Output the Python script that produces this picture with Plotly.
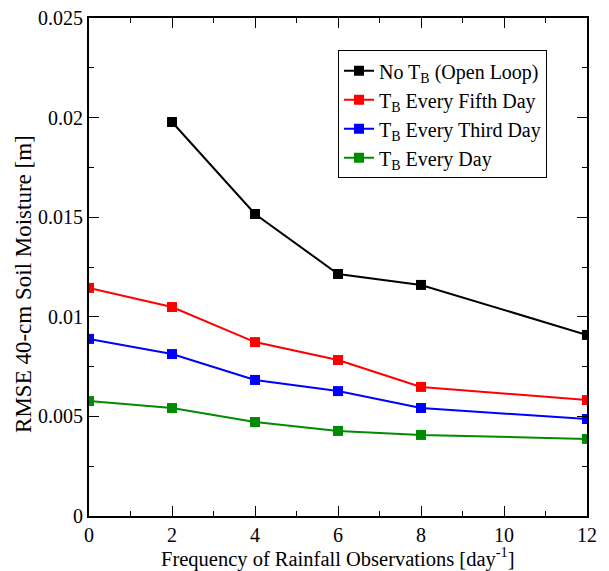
import plotly.graph_objects as go

freq = [0, 2, 4, 6, 8, 12]
open_loop_x = [2, 4, 6, 8, 12]
open_loop = [0.01978, 0.01516, 0.01215, 0.0116, 0.00909]
every_fifth = [0.01145, 0.01049, 0.00873, 0.00783, 0.00648, 0.00582]
every_third = [0.00889, 0.00813, 0.00683, 0.00627, 0.00542, 0.00487]
every_day = [0.00577, 0.00542, 0.00472, 0.00427, 0.00407, 0.00387]

names = ["No T<sub>B</sub> (Open Loop)", "T<sub>B</sub> Every Fifth Day",
         "T<sub>B</sub> Every Third Day", "T<sub>B</sub> Every Day"]
colors = ["#000000", "#ff0000", "#0000ff", "#008b00"]
xs = [open_loop_x, freq, freq, freq]
ys = [open_loop, every_fifth, every_third, every_day]
y_title = "RMSE 40-cm Soil Moisture [m]"
x_title = "Frequency of Rainfall Observations [day<sup>-1</sup>]"

fig = go.Figure()
for n, c, x, y in zip(names, colors, xs, ys):
    fig.add_trace(go.Scatter(x=x, y=y, name=n, mode="lines+markers",
                             line=dict(color=c, width=2),
                             marker=dict(symbol="square", size=10, color=c)))

fam = "Liberation Serif"
tickfont = dict(family=fam, size=20, color="black")
fig.update_layout(
    width=609, height=571,
    margin=dict(l=89, r=22, t=18, b=55),
    plot_bgcolor="white", paper_bgcolor="white",
    font=dict(family=fam, size=20, color="black"),
    showlegend=True,
    legend=dict(x=0.5, y=0.935, xanchor="left", yanchor="top",
                bordercolor="black", borderwidth=1, bgcolor="white",
                font=dict(family=fam, size=20, color="black"),
                tracegroupgap=0, itemwidth=30),
)
fig.update_xaxes(range=[0, 12], dtick=2, tick0=0, ticks="inside", ticklen=10,
                 tickwidth=1, tickcolor="black", showline=True, linecolor="black",
                 linewidth=2, mirror="ticks", showgrid=False, zeroline=False,
                 tickfont=tickfont, automargin=False,
                 minor=dict(dtick=1, ticks="inside", ticklen=5, tickcolor="black"))
fig.update_yaxes(range=[0, 0.025], dtick=0.005, tick0=0, ticks="inside", ticklen=10,
                 tickwidth=1, tickcolor="black", showline=True, linecolor="black",
                 linewidth=2, mirror="ticks", showgrid=False, zeroline=False,
                 tickfont=tickfont, automargin=False,
                 minor=dict(dtick=0.0025, ticks="inside", ticklen=5, tickcolor="black"))
fig.add_annotation(text=y_title, xref="paper", yref="paper", x=-0.1305, y=0.466,
                   xanchor="center", yanchor="middle", textangle=-90, showarrow=False,
                   font=dict(family=fam, size=23, color="black"))
fig.add_annotation(text=x_title, xref="paper", yref="paper", x=0.5, y=-0.083,
                   xanchor="center", yanchor="middle", showarrow=False,
                   font=dict(family=fam, size=20.5, color="black"))
fig.write_html("out.html", config={"displayModeBar": False},
               post_script="document.body.style.margin='0px';")
